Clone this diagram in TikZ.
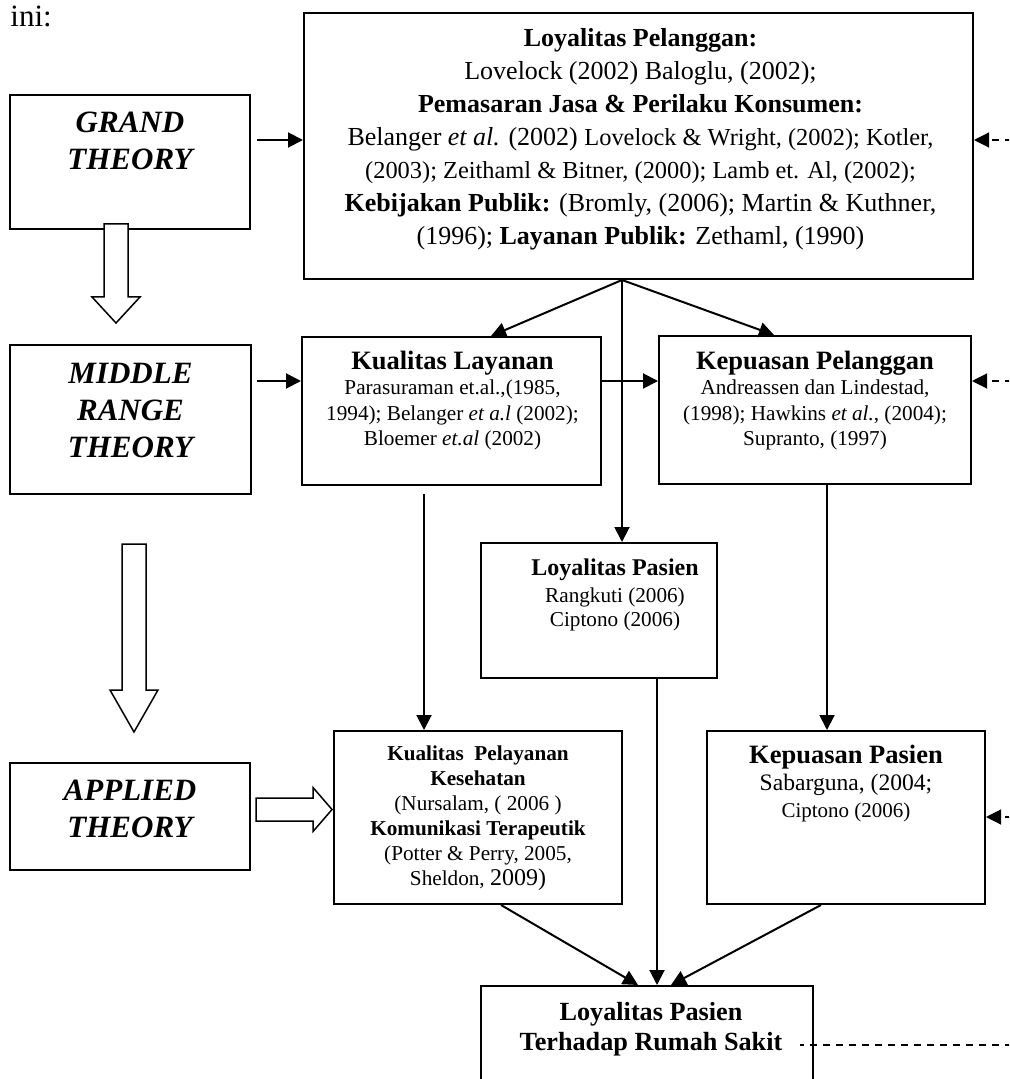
\documentclass[tikz,border=0pt]{standalone}
\usepackage{fontspec}
\setmainfont{Liberation Serif}
\usetikzlibrary{arrows.meta,calc}
\newcommand\txtstack[1]{\begin{tabular}[t]{@{}c@{}}#1\end{tabular}}
\newcommand\theoryfont{\fontsize{15.5}{18.5}\selectfont\bfseries\itshape}
\begin{document}
\begin{tikzpicture}[x=0.5pt,y=-0.5pt,
  box/.style={draw,line width=1pt,fill=white,inner sep=0pt,anchor=north west},
  txt/.style={anchor=base,inner sep=0pt},
  arr/.style={line width=1pt,-{Triangle[length=7.5pt,width=7.5pt]}},
  darr/.style={line width=0.6pt,dash pattern=on 3.5pt off 3pt,-{Triangle[length=7.5pt,width=7.5pt]}},
  dline/.style={line width=0.6pt,dash pattern=on 3.5pt off 3pt},
  hollow/.style={draw,line width=0.75pt,fill=white,line join=miter}]
\clip (0,0) rectangle (1009,1079);
\fill[white] (0,0) rectangle (1009,1079);

\node[txt,anchor=base west,font=\fontsize{15.5}{18}\selectfont] (ini) at (10,27) {ini:};

% theory levels on the left
\node[box,minimum width=120pt,minimum height=67pt] (grand) at (9,94) {};
\node[txt,font=\theoryfont] (grandtxt) at ($(grand.north)+(0,39)$) {\txtstack{GRAND\\THEORY}};
\node[box,minimum width=120.5pt,minimum height=74.5pt] (middle) at (9,344) {};
\node[txt,font=\theoryfont] (middletxt) at ($(middle.north)+(0,39)$) {\txtstack{MIDDLE\\RANGE\\THEORY}};
\node[box,minimum width=120pt,minimum height=53.5pt] (applied) at (9,762) {};
\node[txt,font=\theoryfont] (appliedtxt) at ($(applied.north)+(0,38)$) {\txtstack{APPLIED\\THEORY}};

% grand theory
\node[box,minimum width=334.5pt,minimum height=133pt] (top) at (303,12) {};
\node[txt,font=\fontsize{13}{16.5}\selectfont] (toptxt) at ($(top.north)+(2,35)$) {\txtstack{%
\textbf{Loyalitas Pelanggan:}\\
Lovelock (2002) Baloglu, (2002);\\
\textbf{Pemasaran Jasa \& Perilaku Konsumen:}\\
Belanger \textit{et al.} (2002) {\fontsize{12.2}{16.5}\selectfont Lovelock \& Wright, (2002); Kotler,}\\
{\fontsize{12.2}{16.5}\selectfont (2003); Zeithaml \& Bitner, (2000); Lamb et. Al, (2002);}\\
\textbf{Kebijakan Publik:} (Bromly, (2006); Martin \& Kuthner,\\
(1996); \textbf{Layanan Publik:} Zethaml, (1990)}};

% middle range theory
\node[box,minimum width=149.5pt,minimum height=74pt] (kl) at (301,336) {};
\node[txt,font=\fontsize{10.6}{12.5}\selectfont] (kltxt) at ($(kl.north)+(1,34)$) {\txtstack{%
{\fontsize{13.25}{12.5}\selectfont\bfseries Kualitas Layanan}\\
Parasuraman et.al.,(1985,\\
1994); Belanger \textit{et a.l} (2002);\\
Bloemer \textit{et.al} (2002)}};
\node[box,minimum width=156pt,minimum height=74pt] (kp) at (658,335) {};
\node[txt,font=\fontsize{10.6}{12.5}\selectfont] (kptxt) at ($(kp.north)+(0,35)$) {\txtstack{%
{\fontsize{13.25}{12.5}\selectfont\bfseries Kepuasan Pelanggan}\\
Andreassen dan Lindestad,\\
(1998); Hawkins \textit{et al.}, (2004);\\
Supranto, (1997)}};
\node[box,minimum width=118pt,minimum height=67.5pt] (lps) at (480,542) {};
\node[txt,font=\fontsize{10.6}{12}\selectfont] (lpstxt) at ($(lps.north)+(16,33)$) {\txtstack{%
{\fontsize{12}{12}\selectfont\bfseries Loyalitas Pasien}\\[1.5pt]
Rangkuti (2006)\\
Ciptono (2006)}};

% applied theory
\node[box,minimum width=144pt,minimum height=86.5pt] (kpk) at (333,730) {};
\node[txt,font=\fontsize{10.6}{12.5}\selectfont] (kpktxt) at ($(kpk.north)+(0,30)$) {\txtstack{%
\textbf{Kualitas\ \ Pelayanan}\\
\textbf{Kesehatan}\\
(Nursalam, ( 2006 )\\
\textbf{Komunikasi Terapeutik}\\
(Potter \& Perry, 2005,\\
Sheldon, {\fontsize{12}{12.5}\selectfont 2009)}}};
\node[box,minimum width=139pt,minimum height=86.5pt] (kps) at (706,730) {};
\node[txt,font=\fontsize{10.5}{13.5}\selectfont] (kpstxt) at ($(kps.north)+(0,33)$) {\txtstack{%
{\fontsize{13.25}{13.5}\selectfont\bfseries Kepuasan Pasien}\\
{\fontsize{11.8}{13.5}\selectfont Sabarguna, (2004;}\\
Ciptono (2006)}};

% outcome
\node[box,minimum width=166pt,minimum height=65pt] (lpr) at (480,985) {};
\node[txt,font=\fontsize{13.1}{15}\selectfont\bfseries] (lprtxt) at ($(lpr.north)+(4,35)$) {\txtstack{%
Loyalitas Pasien\\
Terhadap Rumah Sakit}};

% hollow level arrows
\coordinate (ha) at ($(grand.south)+(-14,0)$);
\draw[hollow] ($(ha)+(-12,-6)$) -- ($(ha)+(12,-6)$) -- ($(ha)+(12,67)$) -- ($(ha)+(24,67)$)
  -- ($(ha)+(0,93)$) -- ($(ha)+(-24,67)$) -- ($(ha)+(-12,67)$) -- cycle;
\coordinate (hb) at ($(middle.south)+(3.5,0)$);
\draw[hollow] ($(hb)+(-12,49)$) -- ($(hb)+(12,49)$) -- ($(hb)+(12,195)$) -- ($(hb)+(24,195)$)
  -- ($(hb)+(0,237)$) -- ($(hb)+(-24,195)$) -- ($(hb)+(-12,195)$) -- cycle;
\coordinate (hc) at ($(applied.east)+(5,-7)$);
\draw[hollow] ($(hc)+(0,-11.5)$) -- ($(hc)+(57,-11.5)$) -- ($(hc)+(57,-22)$) -- ($(hc)+(76,0)$)
  -- ($(hc)+(57,22)$) -- ($(hc)+(57,11.5)$) -- ($(hc)+(0,11.5)$) -- cycle;

% solid connectors
\draw[arr] ($(grand.east)+(6,-22)$) -- ($(top.west)+(0,-6)$);
\draw[arr] ($(middle.east)+(5,-38.5)$) -- ($(kl.west)+(0,-30)$);
\draw[arr] ($(kl.east)+(0,-30)$) -- ($(kp.west)+(0,-29)$);
\coordinate (split) at ($(top.south)+(-16.5,0)$);
\draw[arr] (split) -- ($(kl.north)+(39.5,0)$);
\draw[arr] (split) -- ($(kp.north)+(-41,0)$);
\draw[arr] (split) -- (split |- lps.north);
\coordinate (klout) at ($(kl.south)+(-27.5,8)$);
\draw[arr] (klout) -- (klout |- kpk.north);
\coordinate (kpout) at ($(kp.south)+(12,0)$);
\draw[arr] (kpout) -- (kpout |- kps.north);
\coordinate (lpsout) at ($(lps.south)+(58,0)$);
\draw[arr] (lpsout) -- (lpsout |- lpr.north);
\draw[arr] ($(kpk.south)+(23,0)$) -- ($(lpr.north)+(-9,0)$);
\draw[arr] ($(kps.south)+(-25,0)$) -- ($(lpr.north)+(24,0)$);

% dashed feedback lines from the right
\coordinate (fb1) at (1012,140);
\draw[darr] (fb1) -- (fb1 -| top.east);
\coordinate (fb2) at (1012,381);
\draw[darr] (fb2) -- (fb2 -| kp.east);
\coordinate (fb3) at (1012,817);
\draw[darr] (fb3) -- (fb3 -| kps.east);
\coordinate (fb4) at (1012,1045);
\coordinate (fb4b) at (lpr.east |- fb4);
\draw[dline] (fb4) -- ($(fb4b)+(-14,0)$);
\end{tikzpicture}
\end{document}
